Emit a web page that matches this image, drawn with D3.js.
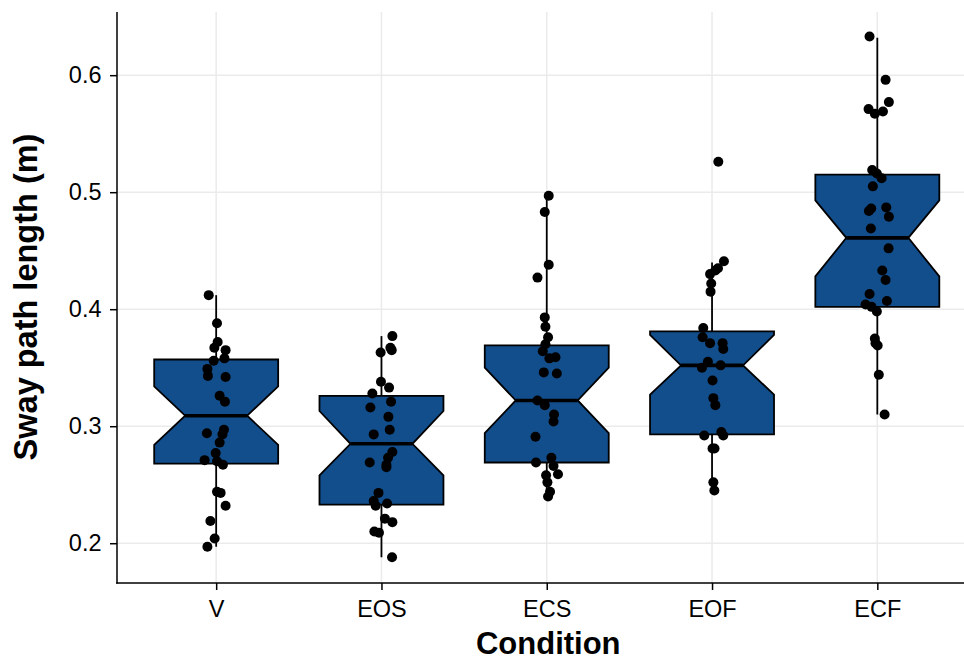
<!DOCTYPE html>
<html>
<head>
<meta charset="utf-8">
<script src="https://cdnjs.cloudflare.com/ajax/libs/d3/7.8.5/d3.min.js"></script>
<style>
  body { margin: 0; background: #fff; }
  text { font-family: "Liberation Sans", Arial, Helvetica, sans-serif; }
</style>
</head>
<body>
<script>
// conditions on the x axis
const conditions = ["V", "EOS", "ECS", "EOF", "ECF"];
const yTicks = [0.2, 0.3, 0.4, 0.5, 0.6];

// boxplot stats
const whiskerLow = [0.197, 0.188, 0.240, 0.245, 0.310];
const q1 = [0.268, 0.233, 0.269, 0.293, 0.402];
const median = [0.309, 0.285, 0.322, 0.352, 0.461];
const q3 = [0.357, 0.326, 0.369, 0.381, 0.515];
const whiskerHigh = [0.412, 0.377, 0.497, 0.440, 0.632];
const notchLow = [0.284, 0.258, 0.294, 0.327, 0.428];
const notchHigh = [0.334, 0.313, 0.350, 0.378, 0.493];

// raw points (sway path length, m) and their jitter (in category units)
const swayV = [0.412,0.388,0.372,0.367,0.365,0.358,0.356,0.349,0.343,0.342,0.326,0.321,0.294,0.297,0.293,0.286,0.277,0.271,0.270,0.267,0.244,0.243,0.232,0.219,0.204,0.197];
const jitV = [-0.045,0.005,0.009,-0.011,0.057,0.050,-0.015,-0.053,-0.050,0.057,0.021,0.053,-0.056,0.047,0.038,0.021,-0.003,-0.070,0.005,0.041,0.005,0.027,0.057,-0.035,-0.009,-0.053];
const swayEOS = [0.377,0.367,0.365,0.363,0.338,0.333,0.328,0.321,0.316,0.308,0.297,0.293,0.278,0.273,0.269,0.267,0.265,0.243,0.236,0.234,0.232,0.221,0.218,0.210,0.209,0.188];
const jitEOS = [0.066,0.054,0.062,-0.005,-0.003,0.046,-0.055,0.058,-0.067,0.042,0.050,-0.047,0.066,0.040,-0.071,0.030,0.030,-0.018,-0.047,0.034,-0.035,0.021,0.066,-0.043,-0.015,0.064];
const swayECS = [0.497,0.483,0.438,0.427,0.393,0.385,0.376,0.370,0.364,0.358,0.359,0.346,0.345,0.322,0.318,0.310,0.304,0.291,0.269,0.273,0.266,0.259,0.258,0.252,0.244,0.240];
const jitECS = [0.012,-0.012,0.012,-0.056,-0.012,-0.008,0.008,-0.008,-0.024,0.016,0.053,-0.018,0.061,-0.056,-0.012,0.044,0.041,-0.068,-0.065,0.028,0.041,0.068,-0.004,0.004,0.020,0.008];
const swayEOF = [0.526,0.441,0.435,0.433,0.430,0.422,0.415,0.384,0.376,0.371,0.371,0.366,0.355,0.350,0.352,0.339,0.324,0.318,0.292,0.295,0.292,0.281,0.281,0.252,0.245];
const jitEOF = [0.038,0.072,0.036,0.020,-0.012,-0.005,-0.009,-0.053,-0.057,-0.012,0.064,0.068,-0.025,-0.061,0.052,0.003,0.008,0.020,-0.047,0.056,0.068,0.003,0.015,0.008,0.014];
const swayECF = [0.633,0.596,0.577,0.571,0.567,0.569,0.519,0.516,0.512,0.505,0.486,0.484,0.487,0.479,0.469,0.452,0.433,0.425,0.413,0.407,0.404,0.402,0.398,0.375,0.371,0.369,0.344,0.310];
const jitECF = [-0.047,0.050,0.070,-0.053,-0.015,0.034,-0.031,-0.003,0.026,-0.027,-0.037,-0.051,0.054,0.070,-0.039,0.068,0.030,0.050,-0.047,0.058,-0.071,-0.035,-0.003,-0.015,-0.011,0.002,0.009,0.044];

const swayAll = [swayV, swayEOS, swayECS, swayEOF, swayECF];
const jitAll = [jitV, jitEOS, jitECS, jitEOF, jitECF];

const W = 964, H = 660;
const pLeft = 117, pTop = 12, pBottom = 583, pRight = 976.5;

const svg = d3.select("body").append("svg")
    .attr("width", W)
    .attr("height", H)
    .attr("viewBox", "0 0 " + W + " " + H);

const x = d3.scalePoint().domain(conditions).range([pLeft, pRight]).padding(0.6);
const y = d3.scaleLinear().domain([0.166, 0.654]).range([pBottom, pTop]);
const step = x.step();
const boxW = step * 0.75;

// grid
const grid = svg.append("g");
grid.selectAll(".hg").data(yTicks).join("line")
    .attr("x1", pLeft).attr("x2", pRight)
    .attr("y1", d => y(d)).attr("y2", d => y(d))
    .attr("stroke", "#ebebeb").attr("stroke-width", 1.5);
grid.selectAll(".vg").data(conditions).join("line")
    .attr("x1", d => x(d)).attr("x2", d => x(d))
    .attr("y1", pTop).attr("y2", pBottom)
    .attr("stroke", "#ebebeb").attr("stroke-width", 1.5);

// boxes
const boxes = conditions.map((c, i) => ({
    c: c, lo: whiskerLow[i], q1: q1[i], med: median[i], q3: q3[i],
    hi: whiskerHigh[i], nlo: notchLow[i], nhi: notchHigh[i]
}));

const bx = svg.append("g");
bx.selectAll(".wu").data(boxes).join("line")
    .attr("x1", d => x(d.c)).attr("x2", d => x(d.c))
    .attr("y1", d => y(d.q3)).attr("y2", d => y(d.hi))
    .attr("stroke", "#000").attr("stroke-width", 1.8);
bx.selectAll(".wl").data(boxes).join("line")
    .attr("x1", d => x(d.c)).attr("x2", d => x(d.c))
    .attr("y1", d => y(d.q1)).attr("y2", d => y(d.lo))
    .attr("stroke", "#000").attr("stroke-width", 1.8);

bx.selectAll(".box").data(boxes).join("path")
    .attr("d", d => {
        const x0 = x(d.c) - boxW / 2, x1 = x(d.c) + boxW / 2;
        const n = boxW / 4;
        const pts = [
            [x0, y(d.q3)], [x1, y(d.q3)], [x1, y(d.nhi)], [x1 - n, y(d.med)],
            [x1, y(d.nlo)], [x1, y(d.q1)], [x0, y(d.q1)], [x0, y(d.nlo)],
            [x0 + n, y(d.med)], [x0, y(d.nhi)]
        ];
        return "M" + pts.map(p => p.join(",")).join("L") + "Z";
    })
    .attr("fill", "#124e8c")
    .attr("stroke", "#000")
    .attr("stroke-width", 1.8)
    .attr("stroke-linejoin", "miter");

bx.selectAll(".med").data(boxes).join("line")
    .attr("x1", d => x(d.c) - boxW / 4).attr("x2", d => x(d.c) + boxW / 4)
    .attr("y1", d => y(d.med)).attr("y2", d => y(d.med))
    .attr("stroke", "#000").attr("stroke-width", 3.6);

// jittered points
const pts = [];
conditions.forEach((c, i) => {
    swayAll[i].forEach((v, j) => pts.push({ c: c, v: v, j: jitAll[i][j] }));
});
svg.append("g").selectAll("circle").data(pts).join("circle")
    .attr("cx", d => x(d.c) + d.j * step)
    .attr("cy", d => y(d.v))
    .attr("r", 5)
    .attr("fill", "#000");

// axes
const yAxis = svg.append("g")
    .attr("transform", "translate(" + pLeft + ",0)")
    .call(d3.axisLeft(y).tickValues(yTicks).tickFormat(d3.format(".1f")).tickSizeOuter(0).tickSize(7).tickPadding(8.5));
const xAxis = svg.append("g")
    .attr("transform", "translate(0," + pBottom + ")")
    .call(d3.axisBottom(x).tickSizeOuter(0).tickSize(7).tickPadding(10));

[yAxis, xAxis].forEach(a => {
    a.select(".domain").remove();
    a.selectAll(".tick line").attr("stroke", "#000").attr("stroke-width", 1.5);
    a.selectAll(".tick text").attr("fill", "#000").style("font-size", "23.5px");
});

svg.append("line").attr("x1", pLeft).attr("x2", pLeft).attr("y1", pTop).attr("y2", pBottom + 0.75)
    .attr("stroke", "#000").attr("stroke-width", 1.5);
svg.append("line").attr("x1", pLeft - 0.75).attr("x2", pRight).attr("y1", pBottom).attr("y2", pBottom)
    .attr("stroke", "#000").attr("stroke-width", 1.5);

// titles
svg.append("text")
    .attr("x", (pLeft + pRight) / 2 + 1.5)
    .attr("y", 654)
    .attr("text-anchor", "middle")
    .style("font-size", "31px")
    .style("font-weight", "bold")
    .text("Condition");

svg.append("text")
    .attr("transform", "translate(37,297) rotate(-90)")
    .attr("text-anchor", "middle")
    .style("font-size", "32.5px")
    .style("font-weight", "bold")
    .text("Sway path length (m)");
</script>
</body>
</html>
